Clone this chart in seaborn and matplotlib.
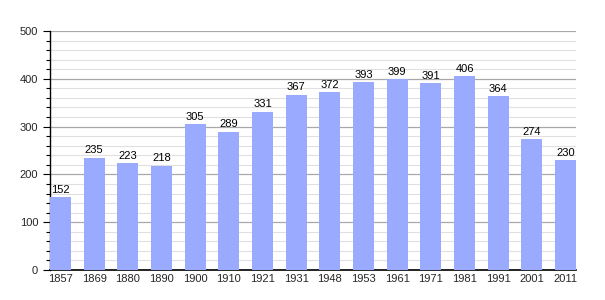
import matplotlib
matplotlib.use("Agg")
import matplotlib.pyplot as plt
import seaborn as sns
import pandas as pd
from matplotlib.ticker import MultipleLocator

years = ["1857", "1869", "1880", "1890", "1900", "1910", "1921", "1931",
         "1948", "1953", "1961", "1971", "1981", "1991", "2001", "2011"]
population = [152, 235, 223, 218, 305, 289, 331, 367, 372, 393, 399, 391, 406, 364, 274, 230]

df = pd.DataFrame({"year": years, "pop": population})

sns.set_style("white")
plt.rcParams['font.family'] = ['Liberation Sans', 'DejaVu Sans']

fig = plt.figure(figsize=(6.05, 3.0), dpi=100)
ax = fig.add_axes([50/605, 30/300, 526/605, 239/300])

bw = 0.62
sns.barplot(data=df, x="year", y="pop", color="#99aaff", saturation=1,
            width=bw, ax=ax, zorder=3, linewidth=0, edgecolor="none")

ax.set_ylim(0, 500)
ax.set_xlim(-bw / 2, len(years) - 1 + bw / 2)
ax.yaxis.set_major_locator(MultipleLocator(100))
ax.yaxis.set_minor_locator(MultipleLocator(20))
ax.grid(which="major", axis="y", color="#a8a8a8", linewidth=0.9, zorder=0)
ax.grid(which="minor", axis="y", color="#e0e0e0", linewidth=0.8, zorder=0)
ax.set_axisbelow(True)

for s in ["top", "right"]:
    ax.spines[s].set_visible(False)
ax.spines["left"].set_color("black")
ax.spines["bottom"].set_color("black")
ax.spines["left"].set_linewidth(1.0)
ax.spines["bottom"].set_linewidth(1.2)

ax.tick_params(axis="y", which="major", length=5, width=0.8, labelsize=8, color="black", left=True)
ax.tick_params(axis="y", which="minor", length=3, width=0.8, color="black", left=True)
ax.tick_params(axis="x", length=0, labelsize=8, pad=3)

ax.set_xlabel("")
ax.set_ylabel("")

for i, v in enumerate(population):
    ax.text(i, v + 5, str(v), ha="center", va="bottom", fontsize=8, color="black", zorder=4)

fig.savefig("out.png", dpi=100)
